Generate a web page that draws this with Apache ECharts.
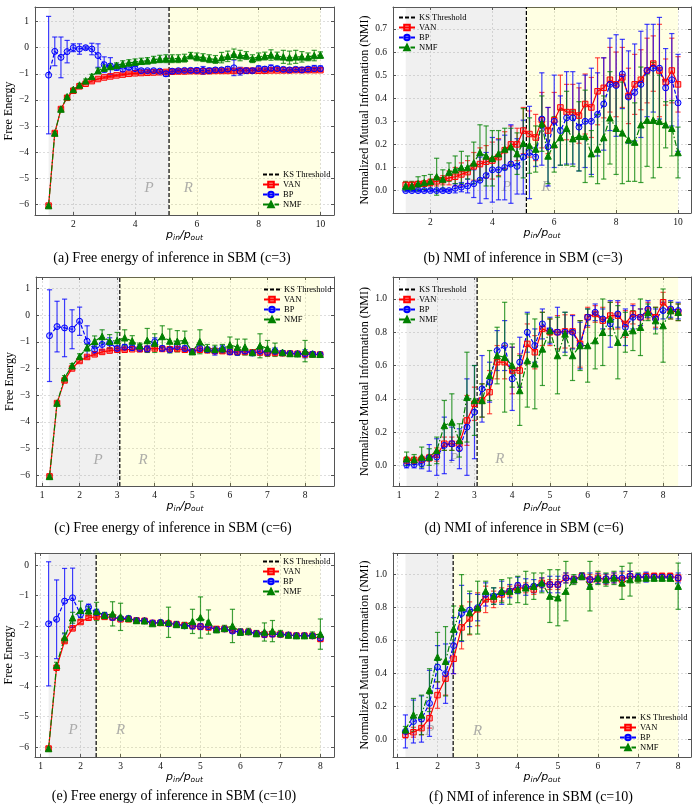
<!DOCTYPE html>
<html><head><meta charset="utf-8">
<script src="https://cdn.jsdelivr.net/npm/echarts@6/dist/echarts.min.js"></script>
<style>html,body{margin:0;padding:0;background:#fff}#c{width:700px;height:810px}</style>
</head><body><div id="c"></div><script>
// ---------------- DATA ----------------
const X_C3 = [1.2,1.4,1.6,1.8,2.0,2.2,2.4,2.6,2.8,3.0,3.2,3.4,3.6,3.8,4.0,4.2,4.4,4.6,4.8,5.0,5.2,5.4,5.6,5.8,6.0,6.2,6.4,6.6,6.8,7.0,7.2,7.4,7.6,7.8,8.0,8.2,8.4,8.6,8.8,9.0,9.2,9.4,9.6,9.8,10.0];
const X_C6 = [1.2,1.4,1.6,1.8,2.0,2.2,2.4,2.6,2.8,3.0,3.2,3.4,3.6,3.8,4.0,4.2,4.4,4.6,4.8,5.0,5.2,5.4,5.6,5.8,6.0,6.2,6.4,6.6,6.8,7.0,7.2,7.4,7.6,7.8,8.0,8.2,8.4];
const X_C10 = [1.2,1.4,1.6,1.8,2.0,2.2,2.4,2.6,2.8,3.0,3.2,3.4,3.6,3.8,4.0,4.2,4.4,4.6,4.8,5.0,5.2,5.4,5.6,5.8,6.0,6.2,6.4,6.6,6.8,7.0,7.2,7.4,7.6,7.8,8.0];

const KS_C3 = 5.1, KS_C6 = 3.07, KS_C10 = 2.39;

// (a) Free energy c=3
const A_VAN = [-6.05,-3.27,-2.35,-1.92,-1.65,-1.48,-1.38,-1.28,-1.2,-1.14,-1.1,-1.06,-1.03,-1.0,-0.98,-0.97,-0.96,-0.95,-0.94,-0.93,-0.92,-0.91,-0.91,-0.9,-0.9,-0.9,-0.9,-0.89,-0.89,-0.89,-0.89,-0.88,-0.88,-0.88,-0.88,-0.88,-0.87,-0.87,-0.87,-0.87,-0.86,-0.86,-0.86,-0.86,-0.86];
const A_VAN_ERR = [0.05,0.06,0.06,0.05,0.05,0.05,0.04,0.04,0.04,0.04,0.04,0.04,0.04,0.04,0.04,0.04,0.04,0.04,0.04,0.05,0.05,0.05,0.05,0.05,0.05,0.05,0.05,0.05,0.05,0.05,0.05,0.05,0.05,0.05,0.05,0.05,0.05,0.05,0.05,0.05,0.05,0.05,0.05,0.05,0.05];
const A_BP = [-1.05,-0.14,-0.37,-0.15,0.0,-0.05,0.0,-0.05,-0.3,-0.65,-0.7,-0.75,-0.82,-0.75,-0.8,-0.88,-0.88,-0.88,-0.9,-1.0,-0.9,-0.88,-0.87,-0.87,-0.87,-0.87,-0.88,-0.85,-0.85,-0.82,-0.77,-0.9,-0.88,-0.88,-0.8,-0.82,-0.78,-0.8,-0.83,-0.85,-0.83,-0.85,-0.82,-0.8,-0.8];
const A_BP_ERR = [2.25,0.55,0.78,0.43,0.15,0.2,0.06,0.22,0.45,0.3,0.32,0.12,0.1,0.1,0.08,0.06,0.05,0.06,0.05,0.1,0.08,0.05,0.06,0.08,0.1,0.15,0.1,0.08,0.08,0.1,0.3,0.15,0.1,0.08,0.1,0.1,0.12,0.08,0.08,0.08,0.08,0.1,0.1,0.12,0.1];
const A_NMF = [-6.05,-3.27,-2.35,-1.88,-1.6,-1.43,-1.27,-1.1,-0.88,-0.78,-0.72,-0.68,-0.62,-0.58,-0.55,-0.52,-0.5,-0.46,-0.43,-0.42,-0.42,-0.42,-0.4,-0.3,-0.35,-0.38,-0.42,-0.45,-0.38,-0.33,-0.25,-0.3,-0.3,-0.42,-0.35,-0.32,-0.28,-0.32,-0.35,-0.38,-0.35,-0.35,-0.35,-0.3,-0.28];
const A_NMF_ERR = [0.05,0.05,0.05,0.05,0.05,0.06,0.07,0.08,0.1,0.12,0.1,0.1,0.12,0.12,0.12,0.12,0.12,0.13,0.14,0.15,0.15,0.15,0.15,0.12,0.15,0.15,0.15,0.15,0.2,0.2,0.2,0.2,0.15,0.15,0.15,0.15,0.2,0.15,0.25,0.25,0.25,0.2,0.15,0.2,0.12];

// (b) NMI c=3
const B_VAN = [0.025,0.025,0.028,0.03,0.035,0.04,0.045,0.055,0.06,0.07,0.08,0.105,0.115,0.125,0.13,0.145,0.175,0.2,0.2,0.26,0.245,0.23,0.305,0.26,0.305,0.36,0.34,0.34,0.325,0.375,0.36,0.43,0.445,0.48,0.46,0.49,0.41,0.46,0.48,0.52,0.55,0.52,0.47,0.52,0.46];
const B_VAN_ERR = [0.01,0.01,0.012,0.012,0.015,0.02,0.02,0.03,0.04,0.05,0.05,0.06,0.07,0.07,0.08,0.08,0.08,0.08,0.07,0.1,0.1,0.1,0.12,0.1,0.12,0.14,0.12,0.12,0.12,0.13,0.13,0.145,0.13,0.14,0.14,0.13,0.12,0.13,0.13,0.14,0.12,0.2,0.1,0.14,0.12];
const B_BP = [0,0,0,0,0,0,0,0,0.01,0.015,0.02,0.03,0.045,0.065,0.09,0.09,0.1,0.115,0.105,0.145,0.165,0.145,0.31,0.19,0.3,0.26,0.315,0.315,0.275,0.3,0.3,0.33,0.375,0.46,0.455,0.505,0.405,0.425,0.46,0.52,0.53,0.53,0.445,0.48,0.38];
const B_BP_ERR = [0.005,0.005,0.005,0.005,0.005,0.005,0.005,0.005,0.02,0.02,0.03,0.06,0.1,0.1,0.14,0.13,0.14,0.17,0.12,0.16,0.2,0.04,0.2,0.17,0.2,0.15,0.2,0.2,0.19,0.2,0.23,0.18,0.2,0.2,0.22,0.15,0.2,0.21,0.23,0.2,0.19,0.22,0.17,0.2,0.21];
const B_NMF = [0.02,0.02,0.03,0.035,0.04,0.06,0.05,0.08,0.09,0.1,0.1,0.12,0.165,0.15,0.14,0.16,0.18,0.19,0.16,0.205,0.195,0.18,0.29,0.15,0.2,0.23,0.27,0.225,0.235,0.235,0.16,0.18,0.23,0.315,0.27,0.25,0.22,0.21,0.285,0.305,0.305,0.3,0.285,0.27,0.165];
const B_NMF_ERR = [0.02,0.02,0.03,0.03,0.03,0.08,0.04,0.04,0.06,0.07,0.05,0.09,0.12,0.13,0.12,0.1,0.09,0.08,0.09,0.15,0.12,0.1,0.12,0.12,0.12,0.12,0.16,0.12,0.15,0.2,0.1,0.15,0.18,0.2,0.2,0.22,0.18,0.17,0.25,0.2,0.25,0.2,0.1,0.12,0.11];

// (c) Free energy c=6
const C_VAN = [-6.05,-3.3,-2.45,-2.0,-1.72,-1.57,-1.47,-1.38,-1.33,-1.3,-1.3,-1.28,-1.28,-1.27,-1.25,-1.27,-1.28,-1.27,-1.3,-1.37,-1.3,-1.32,-1.35,-1.35,-1.38,-1.38,-1.38,-1.4,-1.4,-1.42,-1.42,-1.43,-1.44,-1.45,-1.47,-1.47,-1.48];
const C_VAN_ERR = [0.05,0.05,0.06,0.05,0.05,0.05,0.05,0.05,0.05,0.05,0.05,0.05,0.05,0.05,0.05,0.05,0.05,0.05,0.05,0.05,0.05,0.05,0.05,0.05,0.05,0.05,0.05,0.05,0.05,0.05,0.05,0.05,0.05,0.05,0.05,0.05,0.05];
const C_BP = [-0.77,-0.43,-0.48,-0.53,-0.23,-0.98,-1.3,-1.1,-1.05,-1.25,-1.2,-1.22,-1.25,-1.27,-1.0,-1.25,-1.3,-1.18,-1.25,-1.37,-1.25,-1.3,-1.35,-1.28,-1.38,-1.4,-1.35,-1.42,-1.35,-1.4,-1.35,-1.42,-1.44,-1.45,-1.45,-1.46,-1.48];
const C_BP_ERR = [1.72,0.95,1.08,0.73,0.53,0.58,0.15,0.2,0.2,0.08,0.1,0.1,0.12,0.12,0.15,0.1,0.08,0.1,0.1,0.05,0.1,0.1,0.15,0.15,0.1,0.1,0.1,0.1,0.15,0.12,0.12,0.08,0.05,0.05,0.15,0.05,0.05];
const C_NMF = [-6.05,-3.3,-2.35,-1.9,-1.55,-1.22,-0.98,-0.8,-0.98,-0.95,-0.85,-0.97,-1.15,-0.95,-1.05,-0.8,-0.97,-0.98,-0.95,-1.37,-1.0,-1.25,-1.28,-1.25,-1.12,-1.2,-1.2,-1.4,-1.15,-1.25,-1.3,-1.4,-1.44,-1.45,-1.35,-1.46,-1.47];
const C_NMF_ERR = [0.05,0.05,0.08,0.08,0.1,0.12,0.2,0.25,0.25,0.3,0.3,0.2,0.1,0.45,0.35,0.4,0.45,0.4,0.35,0.05,0.45,0.15,0.15,0.15,0.3,0.3,0.3,0.1,0.45,0.3,0.25,0.05,0.05,0.05,0.4,0.05,0.05];

// (d) NMI c=6
const D_VAN = [0.03,0.03,0.035,0.045,0.065,0.13,0.13,0.13,0.27,0.37,0.39,0.44,0.62,0.62,0.57,0.57,0.73,0.68,0.82,0.8,0.8,0.805,0.805,0.73,0.89,0.91,0.87,0.9,0.9,0.85,0.91,0.89,0.93,0.89,0.98,0.93,0.92];
const D_VAN_ERR = [0.02,0.02,0.02,0.02,0.04,0.04,0.04,0.04,0.15,0.1,0.1,0.13,0.1,0.1,0.14,0.1,0.12,0.1,0.1,0.08,0.1,0.1,0.1,0.14,0.06,0.05,0.08,0.08,0.08,0.08,0.06,0.05,0.05,0.06,0.06,0.05,0.05];
const D_BP = [0.005,0.005,0.01,0.045,0.05,0.12,0.13,0.1,0.23,0.32,0.46,0.5,0.69,0.72,0.52,0.62,0.8,0.72,0.85,0.81,0.8,0.8,0.8,0.72,0.89,0.92,0.88,0.85,0.91,0.83,0.89,0.89,0.94,0.88,0.93,0.94,0.93];
const D_BP_ERR = [0.02,0.02,0.03,0.08,0.11,0.17,0.1,0.12,0.29,0.28,0.2,0.12,0.12,0.15,0.19,0.15,0.12,0.1,0.09,0.08,0.15,0.12,0.1,0.14,0.05,0.05,0.06,0.14,0.08,0.11,0.07,0.05,0.05,0.06,0.05,0.05,0.05];
const D_NMF = [0.04,0.035,0.05,0.05,0.09,0.24,0.26,0.15,0.41,0.39,0.39,0.54,0.66,0.65,0.6,0.45,0.63,0.61,0.7,0.81,0.66,0.79,0.66,0.72,0.72,0.75,0.8,0.88,0.74,0.8,0.81,0.83,0.92,0.87,0.84,0.93,0.92];
const D_NMF_ERR = [0.04,0.03,0.06,0.05,0.08,0.15,0.17,0.1,0.27,0.21,0.1,0.15,0.17,0.33,0.13,0.21,0.28,0.27,0.22,0.07,0.23,0.13,0.15,0.15,0.22,0.17,0.2,0.1,0.22,0.12,0.12,0.17,0.05,0.08,0.22,0.05,0.05];

// (e) Free energy c=10
const E_VAN = [-6.05,-3.38,-2.5,-2.08,-1.87,-1.73,-1.7,-1.7,-1.72,-1.78,-1.78,-1.82,-1.83,-1.9,-1.9,-1.92,-1.95,-1.98,-2.0,-2.02,-2.05,-2.1,-2.1,-2.15,-2.2,-2.2,-2.25,-2.28,-2.27,-2.28,-2.3,-2.32,-2.32,-2.33,-2.43];
const E_VAN_ERR = [0.05,0.06,0.06,0.05,0.05,0.05,0.05,0.05,0.05,0.05,0.05,0.05,0.05,0.05,0.05,0.05,0.05,0.05,0.05,0.05,0.05,0.05,0.05,0.05,0.05,0.05,0.05,0.06,0.06,0.05,0.05,0.05,0.05,0.06,0.08];
const E_BP = [-1.93,-1.78,-1.18,-1.07,-1.62,-1.38,-1.55,-1.65,-1.72,-1.75,-1.75,-1.82,-1.83,-1.9,-1.88,-1.93,-1.95,-2.0,-2.0,-2.02,-2.02,-2.12,-2.1,-2.17,-2.2,-2.2,-2.25,-2.28,-2.27,-2.28,-2.3,-2.32,-2.32,-2.33,-2.4];
const E_BP_ERR = [2.05,1.3,1.08,0.98,0.1,0.1,0.1,0.08,0.08,0.06,0.06,0.05,0.05,0.05,0.05,0.05,0.05,0.05,0.1,0.1,0.1,0.05,0.05,0.05,0.1,0.05,0.05,0.1,0.08,0.05,0.05,0.05,0.05,0.05,0.1];
const E_NMF = [-6.05,-3.3,-2.38,-1.73,-1.48,-1.5,-1.52,-1.65,-1.6,-1.7,-1.75,-1.82,-1.83,-1.92,-1.88,-1.88,-1.95,-1.98,-1.85,-1.72,-1.87,-2.12,-2.08,-2.0,-2.2,-2.18,-2.25,-2.2,-2.17,-2.25,-2.3,-2.32,-2.32,-2.3,-2.27];
const E_NMF_ERR = [0.05,0.1,0.15,0.18,0.3,0.15,0.3,0.1,0.4,0.45,0.08,0.08,0.06,0.06,0.06,0.5,0.1,0.1,0.4,0.68,0.4,0.1,0.1,0.55,0.1,0.1,0.1,0.3,0.35,0.1,0.08,0.08,0.08,0.1,0.5];

// (f) NMI c=10
const F_VAN = [0.03,0.045,0.07,0.13,0.27,0.37,0.49,0.68,0.735,0.79,0.85,0.85,0.88,0.9,0.92,0.92,0.91,0.95,0.94,0.94,0.98,0.97,0.99,0.97,0.98,0.97,0.98,0.97,0.99,0.98,0.99,0.99,0.99,0.99,0.98];
const F_VAN_ERR = [0.02,0.03,0.04,0.06,0.08,0.1,0.09,0.13,0.1,0.1,0.08,0.05,0.04,0.03,0.03,0.03,0.03,0.03,0.03,0.03,0.03,0.02,0.02,0.03,0.03,0.03,0.03,0.04,0.03,0.02,0.02,0.02,0.02,0.02,0.02];
const F_BP = [0.05,0.11,0.125,0.22,0.44,0.4,0.57,0.765,0.785,0.8,0.88,0.87,0.89,0.9,0.935,0.925,0.93,0.94,0.94,0.94,0.98,0.97,0.99,0.97,0.975,0.975,0.98,0.98,0.99,0.985,0.985,0.985,0.985,0.985,0.98];
const F_BP_ERR = [0.1,0.13,0.14,0.2,0.13,0.18,0.17,0.17,0.1,0.08,0.07,0.05,0.07,0.04,0.05,0.05,0.04,0.04,0.05,0.05,0.03,0.02,0.02,0.04,0.03,0.03,0.03,0.04,0.03,0.02,0.03,0.02,0.02,0.02,0.03];
const F_NMF = [0.06,0.15,0.15,0.3,0.5,0.475,0.67,0.8,0.77,0.8,0.9,0.87,0.9,0.9,0.91,0.92,0.93,0.95,0.87,0.86,0.9,0.97,0.99,0.93,0.98,0.97,0.98,0.95,0.97,0.98,0.98,0.98,0.98,0.98,0.93];
const F_NMF_ERR = [0.02,0.1,0.12,0.13,0.15,0.21,0.14,0.2,0.13,0.16,0.06,0.05,0.07,0.08,0.08,0.1,0.08,0.06,0.16,0.17,0.18,0.03,0.02,0.15,0.04,0.04,0.04,0.1,0.1,0.03,0.02,0.02,0.02,0.02,0.14];

// tick labels
const XT_C3 = [2,4,6,8,10];
const XT_C6 = [1,2,3,4,5,6,7,8];
const XT_C10 = [1,2,3,4,5,6,7,8];
const YT_FE_C3 = [-6,-5,-4,-3,-2,-1,0,1];
const YT_FE_C6 = [-6,-5,-4,-3,-2,-1,0,1];
const YT_FE_C10 = [-6,-5,-4,-3,-2,-1,0];
const YT_NMI_C3 = [0.0,0.1,0.2,0.3,0.4,0.5,0.6,0.7];
const YT_NMI_C6 = [0.0,0.2,0.4,0.6,0.8,1.0];
const YT_NMI_C10 = [0.0,0.2,0.4,0.6,0.8,1.0];

const CAPTIONS = [
  '(a) Free energy of inference in SBM (c=3)',
  '(b) NMI of inference in SBM (c=3)',
  '(c) Free energy of inference in SBM (c=6)',
  '(d) NMI of inference in SBM (c=6)',
  '(e) Free energy of inference in SBM (c=10)',
  '(f) NMI of inference in SBM (c=10)'
];
const Y_NAME_FE = 'Free Energy';
const Y_NAME_NMI = 'Normalized Mutual Information (NMI)';

// ---------------- LAYOUT / STYLE ----------------
const SERIF = 'Liberation Serif';
const FRAME = '#555';
const panels = [
  {x:X_C3, van:A_VAN, vanE:A_VAN_ERR, bp:A_BP, bpE:A_BP_ERR, nmf:A_NMF, nmfE:A_NMF_ERR, ks:KS_C3,
   xr:[0.76,10.44], yr:[-6.41,1.56], xt:XT_C3, yt:YT_FE_C3, dec:0, yName:Y_NAME_FE,
   grid:{left:35,top:7,width:299,height:208}, leg:{left:262,top:170}, cap:[172,258], P:[4.45,-5.37], R:[5.72,-5.37]},
  {x:X_C3, van:B_VAN, vanE:B_VAN_ERR, bp:B_BP, bpE:B_BP_ERR, nmf:B_NMF, nmfE:B_NMF_ERR, ks:KS_C3,
   xr:[0.79,10.42], yr:[-0.097,0.795], xt:XT_C3, yt:YT_NMI_C3, dec:1, yName:Y_NAME_NMI,
   grid:{left:393,top:7,width:298,height:206}, leg:{left:398,top:13}, cap:[523,258], P:[4.46,0.014], R:[5.74,0.014]},
  {x:X_C6, van:C_VAN, vanE:C_VAN_ERR, bp:C_BP, bpE:C_BP_ERR, nmf:C_NMF, nmfE:C_NMF_ERR, ks:KS_C6,
   xr:[0.84,8.77], yr:[-6.41,1.43], xt:XT_C6, yt:YT_FE_C6, dec:0, yName:Y_NAME_FE,
   grid:{left:36,top:277,width:298,height:209}, leg:{left:263,top:285}, cap:[173,528], P:[2.49,-5.42], R:[3.69,-5.42]},
  {x:X_C6, van:D_VAN, vanE:D_VAN_ERR, bp:D_BP, bpE:D_BP_ERR, nmf:D_NMF, nmfE:D_NMF_ERR, ks:KS_C6,
   xr:[0.84,8.74], yr:[-0.124,1.132], xt:XT_C6, yt:YT_NMI_C6, dec:1, yName:Y_NAME_NMI,
   grid:{left:393,top:277,width:298,height:209}, leg:{left:398,top:285}, cap:[524,528], P:[2.45,0.04], R:[3.67,0.04]},
  {x:X_C10, van:E_VAN, vanE:E_VAN_ERR, bp:E_BP, bpE:E_BP_ERR, nmf:E_NMF, nmfE:E_NMF_ERR, ks:KS_C10,
   xr:[0.86,8.34], yr:[-6.33,0.41], xt:XT_C10, yt:YT_FE_C10, dec:0, yName:Y_NAME_FE,
   grid:{left:35,top:553,width:299,height:204}, leg:{left:262,top:557}, cap:[174,796], P:[1.81,-5.45], R:[3.0,-5.45]},
  {x:X_C10, van:F_VAN, vanE:F_VAN_ERR, bp:F_BP, bpE:F_BP_ERR, nmf:F_NMF, nmfE:F_NMF_ERR, ks:KS_C10,
   xr:[0.89,8.32], yr:[-0.105,1.131], xt:XT_C10, yt:YT_NMI_C10, dec:1, yName:Y_NAME_NMI,
   grid:{left:393,top:553,width:298,height:204}, leg:{left:619,top:713}, cap:[531,797], P:[1.81,0.054], R:[3.0,0.054]}
];

const STY = {
  VAN: {color:'#ff0000', fill:'rgba(255,0,0,0.28)', symbol:'rect', size:5.5, dash:'solid', errOp:0.7},
  BP:  {color:'#0000ff', fill:'rgba(0,0,255,0.2)', symbol:'circle', size:6, dash:[4,2], errOp:0.75},
  NMF: {color:'#008000', fill:'#008000', symbol:'triangle', size:6.5, dash:[6,2,1.5,2], errOp:0.75}
};

function fmt(dec){ return v => (dec ? Number(v).toFixed(dec) : String(Math.round(v))).replace('-', '\u2212'); }
function pairs(xs, ys){ return xs.map((x,i)=>[x, ys[i]]); }
function errs(xs, ys, es){ return xs.map((x,i)=>[x, ys[i]-es[i], ys[i]+es[i]]); }
function errRender(color, op){
  return function(params, api){
    const x = api.value(0);
    const lo = api.coord([x, api.value(1)]);
    const hi = api.coord([x, api.value(2)]);
    const c = 2.6;
    const style = {stroke: color, lineWidth: 1.2, opacity: op};
    return {type:'group', children:[
      {type:'line', shape:{x1:lo[0], y1:lo[1], x2:hi[0], y2:hi[1]}, style},
      {type:'line', shape:{x1:lo[0]-c, y1:lo[1], x2:lo[0]+c, y2:lo[1]}, style},
      {type:'line', shape:{x1:hi[0]-c, y1:hi[1], x2:hi[0]+c, y2:hi[1]}, style}
    ]};
  };
}

const grid=[], xAxis=[], yAxis=[], series=[], legend=[], graphic=[];
panels.forEach((p, i) => {
  grid.push(Object.assign({containLabel:false}, p.grid));
  const lineSty = {color: FRAME, width: 1};
  xAxis.push({gridIndex:i, type:'value', min:p.xr[0], max:p.xr[1], position:'bottom',
    axisLine:{show:true, onZero:false, lineStyle:lineSty},
    axisTick:{show:true, inside:true, length:3, customValues:p.xt, lineStyle:lineSty},
    axisLabel:{show:true, customValues:p.xt, margin:4, fontFamily:SERIF, fontSize:9.5, color:'#111', formatter:fmt(0)},
    splitLine:{show:true, lineStyle:{color:'#cfcfcf', type:[2,2], width:0.7}},
    name:'{p|p}{s|in}{p|/p}{s|out}', nameLocation:'middle', nameGap:10,
    nameTextStyle:{rich:{
      p:{fontFamily:'DejaVu Sans', fontStyle:'italic', fontSize:11, color:'#000'},
      s:{fontFamily:'DejaVu Sans', fontStyle:'italic', fontSize:7.5, color:'#000', padding:[6,0,0,0]}
    }}
  });
  xAxis.push({gridIndex:i, type:'value', min:p.xr[0], max:p.xr[1], position:'top',
    axisLine:{show:true, onZero:false, lineStyle:lineSty},
    axisTick:{show:true, inside:true, length:3, customValues:p.xt, lineStyle:lineSty},
    axisLabel:{show:false}, splitLine:{show:false}});
  yAxis.push({gridIndex:i, type:'value', min:p.yr[0], max:p.yr[1], position:'left',
    axisLine:{show:true, onZero:false, lineStyle:lineSty},
    axisTick:{show:true, inside:true, length:3, customValues:p.yt, lineStyle:lineSty},
    axisLabel:{show:true, customValues:p.yt, margin:6, fontFamily:SERIF, fontSize:9.5, color:'#111', formatter:fmt(p.dec)},
    splitLine:{show:true, lineStyle:{color:'#cfcfcf', type:[2,2], width:0.7}},
    name:p.yName, nameLocation:'middle', nameGap:p.dec ? 17 : 15,
    nameTextStyle:{fontFamily:SERIF, fontSize:12, color:'#000'}
  });
  yAxis.push({gridIndex:i, type:'value', min:p.yr[0], max:p.yr[1], position:'right',
    axisLine:{show:true, onZero:false, lineStyle:lineSty},
    axisTick:{show:true, inside:true, length:3, customValues:p.yt, lineStyle:lineSty},
    axisLabel:{show:false}, splitLine:{show:false}});

  const xi = 2*i, yi = 2*i;
  const xEnd = p.x[p.x.length-1];
  series.push({type:'line', name:'KS Threshold', xAxisIndex:xi, yAxisIndex:yi, z:1,
    data:[[p.ks, p.yr[0]],[p.ks, p.yr[1]]], symbol:'none', silent:true, color:'#000',
    itemStyle:{color:'#000'},
    lineStyle:{color:'#000', width:1.2, type:[4,2]},
    markArea:{silent:true, data:[
      [{xAxis:p.x[0], itemStyle:{color:'rgba(128,128,128,0.12)'}}, {xAxis:p.ks}],
      [{xAxis:p.ks, itemStyle:{color:'rgba(255,255,0,0.11)'}}, {xAxis:xEnd}]
    ]}
  });
  series.push({type:'scatter', name:'PR'+i, xAxisIndex:xi, yAxisIndex:yi, z:1, silent:true,
    data:[[p.P[0],p.P[1],'P'],[p.R[0],p.R[1],'R']], symbolSize:1, itemStyle:{color:'rgba(0,0,0,0)'},
    label:{show:true, position:'inside', formatter:q=>q.value[2], fontFamily:SERIF, fontStyle:'italic', fontSize:15, color:'#9a9a9a'}
  });
  const methods = [['VAN',p.van,p.vanE],['BP',p.bp,p.bpE],['NMF',p.nmf,p.nmfE]];
  // error bars sit just below every data line (as matplotlib's errorbar does)
  methods.forEach(([nm, ys, es]) => {
    const s = STY[nm];
    series.push({type:'custom', name:nm+' err '+i, xAxisIndex:xi, yAxisIndex:yi, z:2, silent:true,
      data:errs(p.x, ys, es), encode:{x:0, y:[1,2]}, renderItem:errRender(s.color, s.errOp)});
  });
  methods.forEach(([nm, ys]) => {
    const s = STY[nm];
    series.push({type:'line', name:nm, xAxisIndex:xi, yAxisIndex:yi, z:3, color:s.color,
      data:pairs(p.x, ys), symbol:s.symbol, symbolSize:s.size, showAllSymbol:true,
      itemStyle:{color:s.fill, borderColor:s.color, borderWidth:1},
      lineStyle:{color:s.color, width:1.2, type:s.dash}});
  });
  legend.push({data:[{name:'KS Threshold', itemStyle:{opacity:0}}, 'VAN', 'BP', 'NMF'],
    orient:'vertical', left:p.leg.left, top:p.leg.top, padding:0,
    itemWidth:16, itemHeight:7, itemGap:1, selectedMode:false,
    textStyle:{fontFamily:SERIF, fontSize:8.5, color:'#000', padding:[0,0,0,-1]}});
  graphic.push({type:'text', x:p.cap[0], y:p.cap[1],
    style:{text:CAPTIONS[i], fontFamily:SERIF, fontSize:14, fill:'#000', align:'center', verticalAlign:'middle'}});
});

const chart = echarts.init(document.getElementById('c'), null, {renderer:'canvas'});
chart.setOption({animation:false, backgroundColor:'#fff', grid, xAxis, yAxis, series, legend, graphic});
</script></body></html>
